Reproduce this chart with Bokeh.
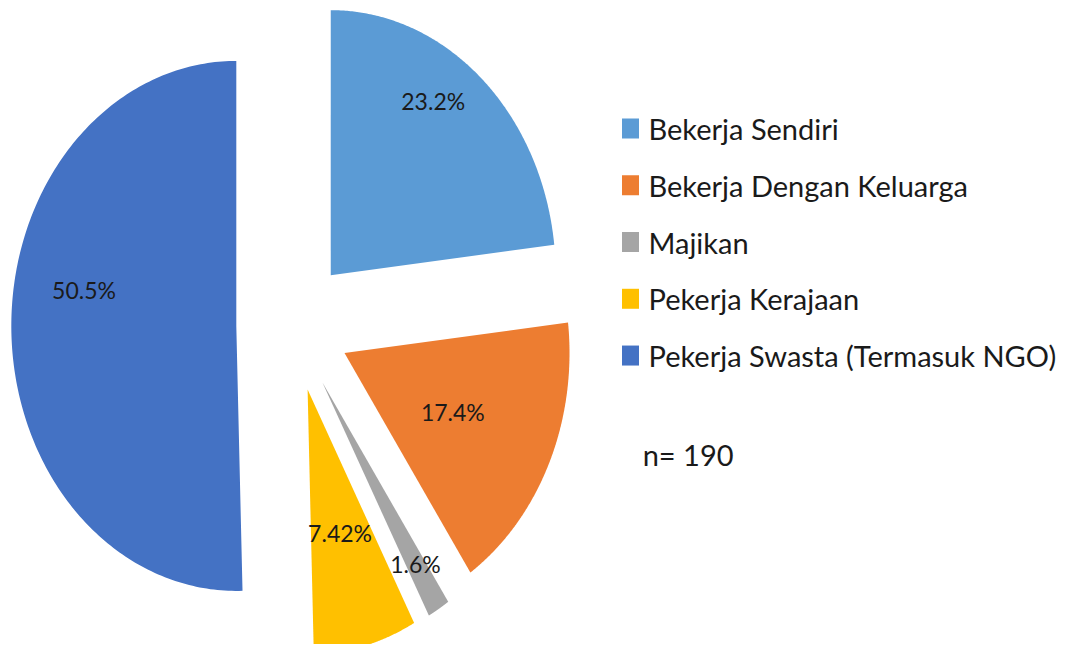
import numpy as np
from bokeh.plotting import figure
from bokeh.models import Range1d
from bokeh.core.properties import value
from bokeh.embed import file_html
from bokeh.resources import INLINE

# ---- data ----
categories = ["Bekerja Sendiri", "Bekerja Dengan Keluarga", "Majikan",
              "Pekerja Kerajaan", "Pekerja Swasta (Termasuk NGO)"]
percentages = [23.2, 17.4, 1.6, 7.42, 50.5]
pct_labels = ["23.2%", "17.4%", "1.6%", "7.42%", "50.5%"]
colors = ["#5B9BD5", "#ED7D31", "#A5A5A5", "#FFC000", "#4472C4"]
sample_note = "n= 190"

# ---- style / layout ----
FONT = "Lato"
explode = 0.252
label_r = [0.80, 0.53, 0.80, 0.56, 0.69]
label_dtheta = [-7.0, 0.0, 0.0, 0.0, 12.0]

p = figure(width=1056, height=644, output_backend="svg", toolbar_location=None,
           x_axis_location=None, y_axis_location=None,
           x_range=Range1d(-1.3, 3.3933), y_range=Range1d(-1.2057, 1.2245),
           min_border=0, outline_line_color=None, background_fill_color="white")
p.grid.visible = False

vals = np.array(percentages, dtype=float)
frac = vals / vals.sum()
ends = np.cumsum(frac) * 2 * np.pi
starts = ends - frac * 2 * np.pi

xs, ys, lx, ly = [], [], [], []
for i, (s, e) in enumerate(zip(starts, ends)):
    mid = (s + e) / 2
    ox, oy = explode * np.sin(mid), explode * np.cos(mid)
    t = np.linspace(s, e, 200)
    xs.append(list(np.concatenate([[ox], ox + np.sin(t), [ox]])))
    ys.append(list(np.concatenate([[oy], oy + np.cos(t), [oy]])))
    a = mid + np.radians(label_dtheta[i])
    lx.append(ox + label_r[i] * np.sin(a))
    ly.append(oy + label_r[i] * np.cos(a))

p.patches(xs=xs, ys=ys, fill_color=colors, line_color=None)
p.text(x=lx, y=ly, text=pct_labels, text_align="center", text_baseline="middle",
       text_font=value(FONT), text_font_size="23px", text_color="#1a1a1a")

# legend
n = len(categories)
leg_y = [0.7415 - i * 0.2142 for i in range(n)]
p.rect(x=[1.50] * n, y=leg_y, width=17, height=20, width_units="screen",
       height_units="screen", fill_color=colors, line_color=None)
p.text(x=[1.58] * n, y=leg_y, text=categories, text_align="left",
       text_baseline="middle", text_font=value(FONT), text_font_size="29px",
       text_color="#1a1a1a")
p.text(x=[1.554], y=[-0.4887], text=[sample_note], text_align="left",
       text_baseline="middle", text_font=value(FONT), text_font_size="29px",
       text_color="#1a1a1a")

open("out.html", "w").write(file_html(p, INLINE))
